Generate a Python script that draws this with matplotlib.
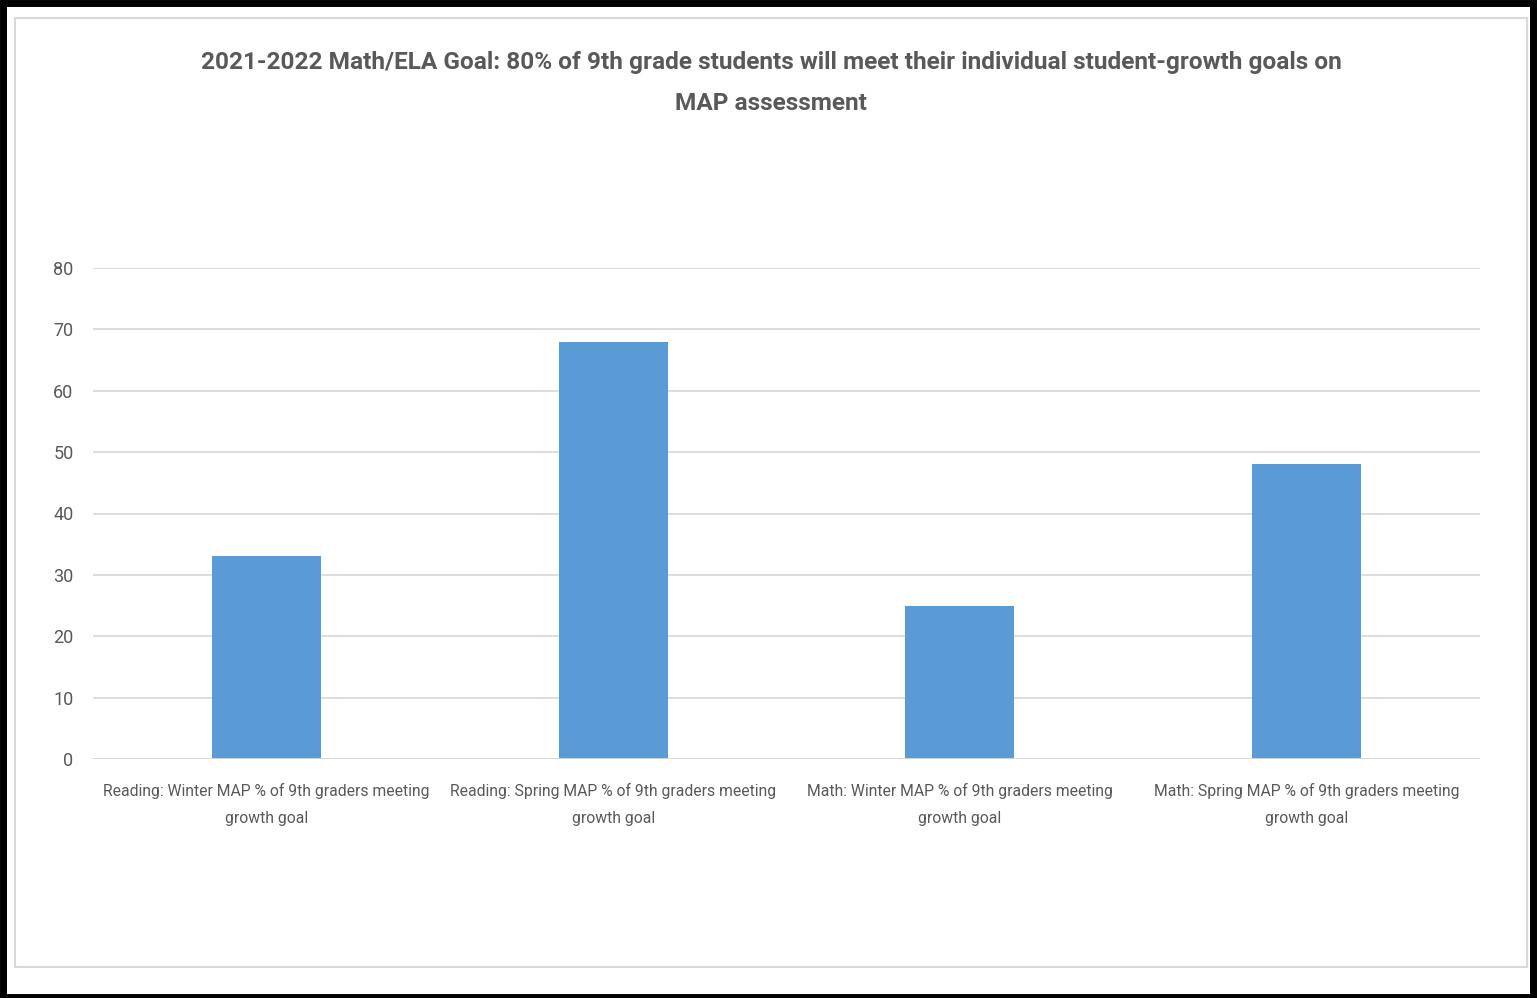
import matplotlib
matplotlib.use("Agg")
import matplotlib.pyplot as plt
from matplotlib.patches import Rectangle

# chart data
categories = [
    "Reading: Winter MAP % of 9th graders meeting\ngrowth goal",
    "Reading: Spring MAP % of 9th graders meeting\ngrowth goal",
    "Math: Winter MAP % of 9th graders meeting\ngrowth goal",
    "Math: Spring MAP % of 9th graders meeting\ngrowth goal",
]
values = [33, 68, 25, 48]
y_ticks = [0, 10, 20, 30, 40, 50, 60, 70, 80]
title_lines = [
    "2021-2022 Math/ELA Goal: 80% of 9th grade students will meet their "
    "individual student-growth goals on",
    "MAP assessment",
]

plt.rcParams['font.family'] = ['Roboto', 'DejaVu Sans']

W, H = 1538, 998
fig = plt.figure(figsize=(W / 100, H / 100), dpi=100)

# outer black frame and inner gray chart border
fig.patches.append(Rectangle((3 / W, 1 / H), (W - 8) / W, (H - 4) / H,
                             transform=fig.transFigure, fill=False,
                             edgecolor="black", linewidth=5))
fig.patches.append(Rectangle((15 / W, 31 / H), (1527 - 15) / W, (967 - 18) / H,
                             transform=fig.transFigure, fill=False,
                             edgecolor="#D9D9D9", linewidth=1.5))

ax = fig.add_axes([93 / W, 1 - 759 / H, (1480 - 93) / W, (759 - 268) / H])
x = range(len(categories))
ax.bar(x, values, width=0.315, color="#5B9BD5", zorder=3)

ax.set_xlim(-0.5, len(categories) - 0.5)
ax.set_ylim(0, 80)
ax.set_yticks(y_ticks)
ax.set_xticks(list(x))
ax.set_xticklabels(categories, fontsize=11.3, color="#595959", linespacing=2.05)
ax.tick_params(axis="y", labelsize=13, labelcolor="#595959", length=0, pad=14)
ax.tick_params(axis="x", length=0, pad=17)
ax.grid(axis="y", color="#D9D9D9", linewidth=1.3, zorder=0)
for s in ax.spines.values():
    s.set_visible(False)
ax.axhline(0, color="#D9D9D9", linewidth=1.3, zorder=4)

# title, one text per line
for i, line in enumerate(title_lines):
    fig.text(771 / W, 1 - (62 + 42 * i) / H, line, ha="center", va="center",
             fontsize=17.6, fontweight="bold", color="#595959")

fig.savefig("out.png", dpi=100)
